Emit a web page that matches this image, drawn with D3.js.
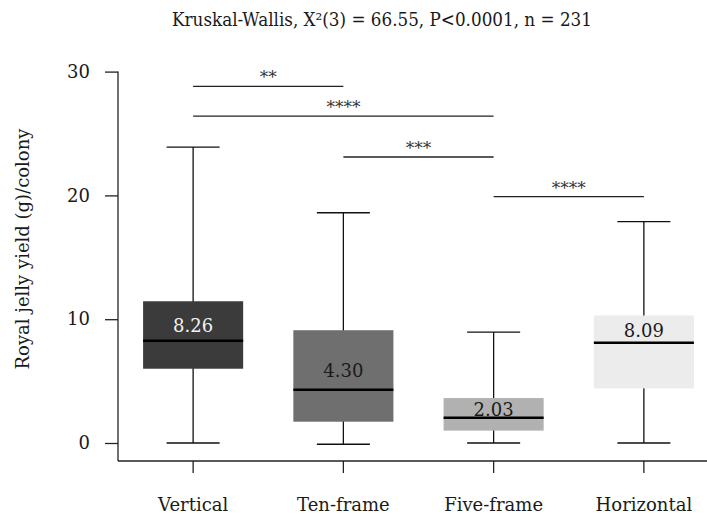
<!DOCTYPE html>
<html>
<head>
<meta charset="utf-8">
<script src="https://cdn.jsdelivr.net/npm/d3@7"></script>
<style>
  body { margin: 0; background: #fff; }
  text { font-family: 'DejaVu Serif', serif; fill: #1a1a1a; }
</style>
</head>
<body>
<div id="chart"></div>
<script>
const groups = ['Vertical', 'Ten-frame', 'Five-frame', 'Horizontal'];
const whiskerLow = [0, -0.1, 0, 0];
const q1 = [6.0, 1.72, 1.0, 4.41];
const medians = [8.26, 4.30, 2.03, 8.09];
const q3 = [11.45, 9.11, 3.63, 10.3];
const whiskerHigh = [23.9, 18.6, 8.95, 17.88];
const medianLabels = ['8.26', '4.30', '2.03', '8.09'];
const labelAt = [8.95, 5.35, 2.18, 8.57]; // baseline of the median label, in data units
const boxFills = ['#3b3b3b', '#6f6f6f', '#b1b1b1', '#ececec'];

const yTicks = [0, 10, 20, 30];

const compFrom = ['Vertical', 'Vertical', 'Ten-frame', 'Five-frame'];
const compTo = ['Ten-frame', 'Five-frame', 'Five-frame', 'Horizontal'];
const compStars = ['**', '****', '***', '****'];
const compLevel = [28.8, 26.4, 23.1, 19.9];

const title = 'Kruskal-Wallis, X\u00B2(3) = 66.55, P<0.0001, n = 231';
const yTitle = 'Royal jelly yield (g)/colony';

const width = 707;
const height = 514;
const axisX = 118;
const axisY = 461;

const svg = d3.select('#chart')
  .append('svg')
  .attr('width', width)
  .attr('height', height);

const x = d3.scaleBand()
  .domain(groups)
  .range([axisX, 719]);

const y = d3.scaleLinear()
  .domain([0, 30])
  .range([443, 71.6]);

const cx = g => x(g) + x.bandwidth() / 2;
const boxW = x.bandwidth() * 0.666;
const capW = x.bandwidth() * 0.353;

// title
svg.append('text')
  .attr('x', 172)
  .attr('y', 26)
  .attr('textLength', 420)
  .attr('lengthAdjust', 'spacingAndGlyphs')
  .style('font-size', '18px')
  .text(title);

// y axis
const yAxis = d3.axisLeft(y)
  .tickValues(yTicks)
  .tickSize(13)
  .tickSizeOuter(0)
  .tickPadding(15);

const yG = svg.append('g')
  .attr('transform', `translate(${axisX},0)`)
  .call(yAxis);
yG.select('.domain').remove();
yG.selectAll('line').attr('stroke', '#222').attr('stroke-width', 1.3);
yG.selectAll('text').style('font-size', '18px').style('font-family', 'DejaVu Serif').attr('fill', '#1a1a1a');

svg.append('line')
  .attr('x1', axisX).attr('x2', axisX)
  .attr('y1', y(30)).attr('y2', axisY)
  .attr('stroke', '#222').attr('stroke-width', 1.3);

svg.append('text')
  .attr('transform', `translate(29,249) rotate(-90)`)
  .attr('text-anchor', 'middle')
  .style('font-size', '18px')
  .text(yTitle);

// x axis
const xAxis = d3.axisBottom(x)
  .tickSize(12)
  .tickSizeOuter(0)
  .tickPadding(25);

const xG = svg.append('g')
  .attr('transform', `translate(0,${axisY})`)
  .call(xAxis);
xG.select('.domain').remove();
xG.selectAll('line').attr('stroke', '#222').attr('stroke-width', 1.3);
xG.selectAll('text').style('font-size', '18px').style('font-family', 'DejaVu Serif').attr('fill', '#1a1a1a');

svg.append('line')
  .attr('x1', axisX).attr('x2', width)
  .attr('y1', axisY).attr('y2', axisY)
  .attr('stroke', '#222').attr('stroke-width', 1.3);

// boxes
const boxes = svg.append('g')
  .selectAll('g')
  .data(groups)
  .enter()
  .append('g');

boxes.append('line')
  .attr('x1', cx).attr('x2', cx)
  .attr('y1', (d, i) => y(whiskerHigh[i]))
  .attr('y2', (d, i) => y(whiskerLow[i]))
  .attr('stroke', '#111')
  .attr('stroke-width', 1.3);

boxes.append('line')
  .attr('x1', d => cx(d) - capW / 2).attr('x2', d => cx(d) + capW / 2)
  .attr('y1', (d, i) => y(whiskerHigh[i])).attr('y2', (d, i) => y(whiskerHigh[i]))
  .attr('stroke', '#111')
  .attr('stroke-width', 1.3);

boxes.append('line')
  .attr('x1', d => cx(d) - capW / 2).attr('x2', d => cx(d) + capW / 2)
  .attr('y1', (d, i) => y(whiskerLow[i])).attr('y2', (d, i) => y(whiskerLow[i]))
  .attr('stroke', '#111')
  .attr('stroke-width', 1.3);

boxes.append('rect')
  .attr('x', d => cx(d) - boxW / 2)
  .attr('width', boxW)
  .attr('y', (d, i) => y(q3[i]))
  .attr('height', (d, i) => y(q1[i]) - y(q3[i]))
  .attr('fill', (d, i) => boxFills[i]);

boxes.append('line')
  .attr('x1', d => cx(d) - boxW / 2).attr('x2', d => cx(d) + boxW / 2)
  .attr('y1', (d, i) => y(medians[i])).attr('y2', (d, i) => y(medians[i]))
  .attr('stroke', '#000')
  .attr('stroke-width', 2.5);

boxes.append('text')
  .attr('x', cx)
  .attr('y', (d, i) => y(labelAt[i]))
  .attr('text-anchor', 'middle')
  .style('font-size', '18px')
  .style('fill', (d, i) => d3.hsl(boxFills[i]).l < 0.35 ? '#f2f2f2' : '#1a1a1a')
  .text((d, i) => medianLabels[i]);

// significance brackets
const comps = svg.append('g')
  .selectAll('g')
  .data(compStars)
  .enter()
  .append('g');

comps.append('line')
  .attr('x1', (d, i) => cx(compFrom[i]))
  .attr('x2', (d, i) => cx(compTo[i]))
  .attr('y1', (d, i) => y(compLevel[i]))
  .attr('y2', (d, i) => y(compLevel[i]))
  .attr('stroke', '#222')
  .attr('stroke-width', 1.3);

comps.append('text')
  .attr('x', (d, i) => (cx(compFrom[i]) + cx(compTo[i])) / 2)
  .attr('y', (d, i) => y(compLevel[i]) - 3)
  .attr('text-anchor', 'middle')
  .style('font-size', '17px')
  .style('fill', '#333')
  .text(d => d);
</script>
</body>
</html>
